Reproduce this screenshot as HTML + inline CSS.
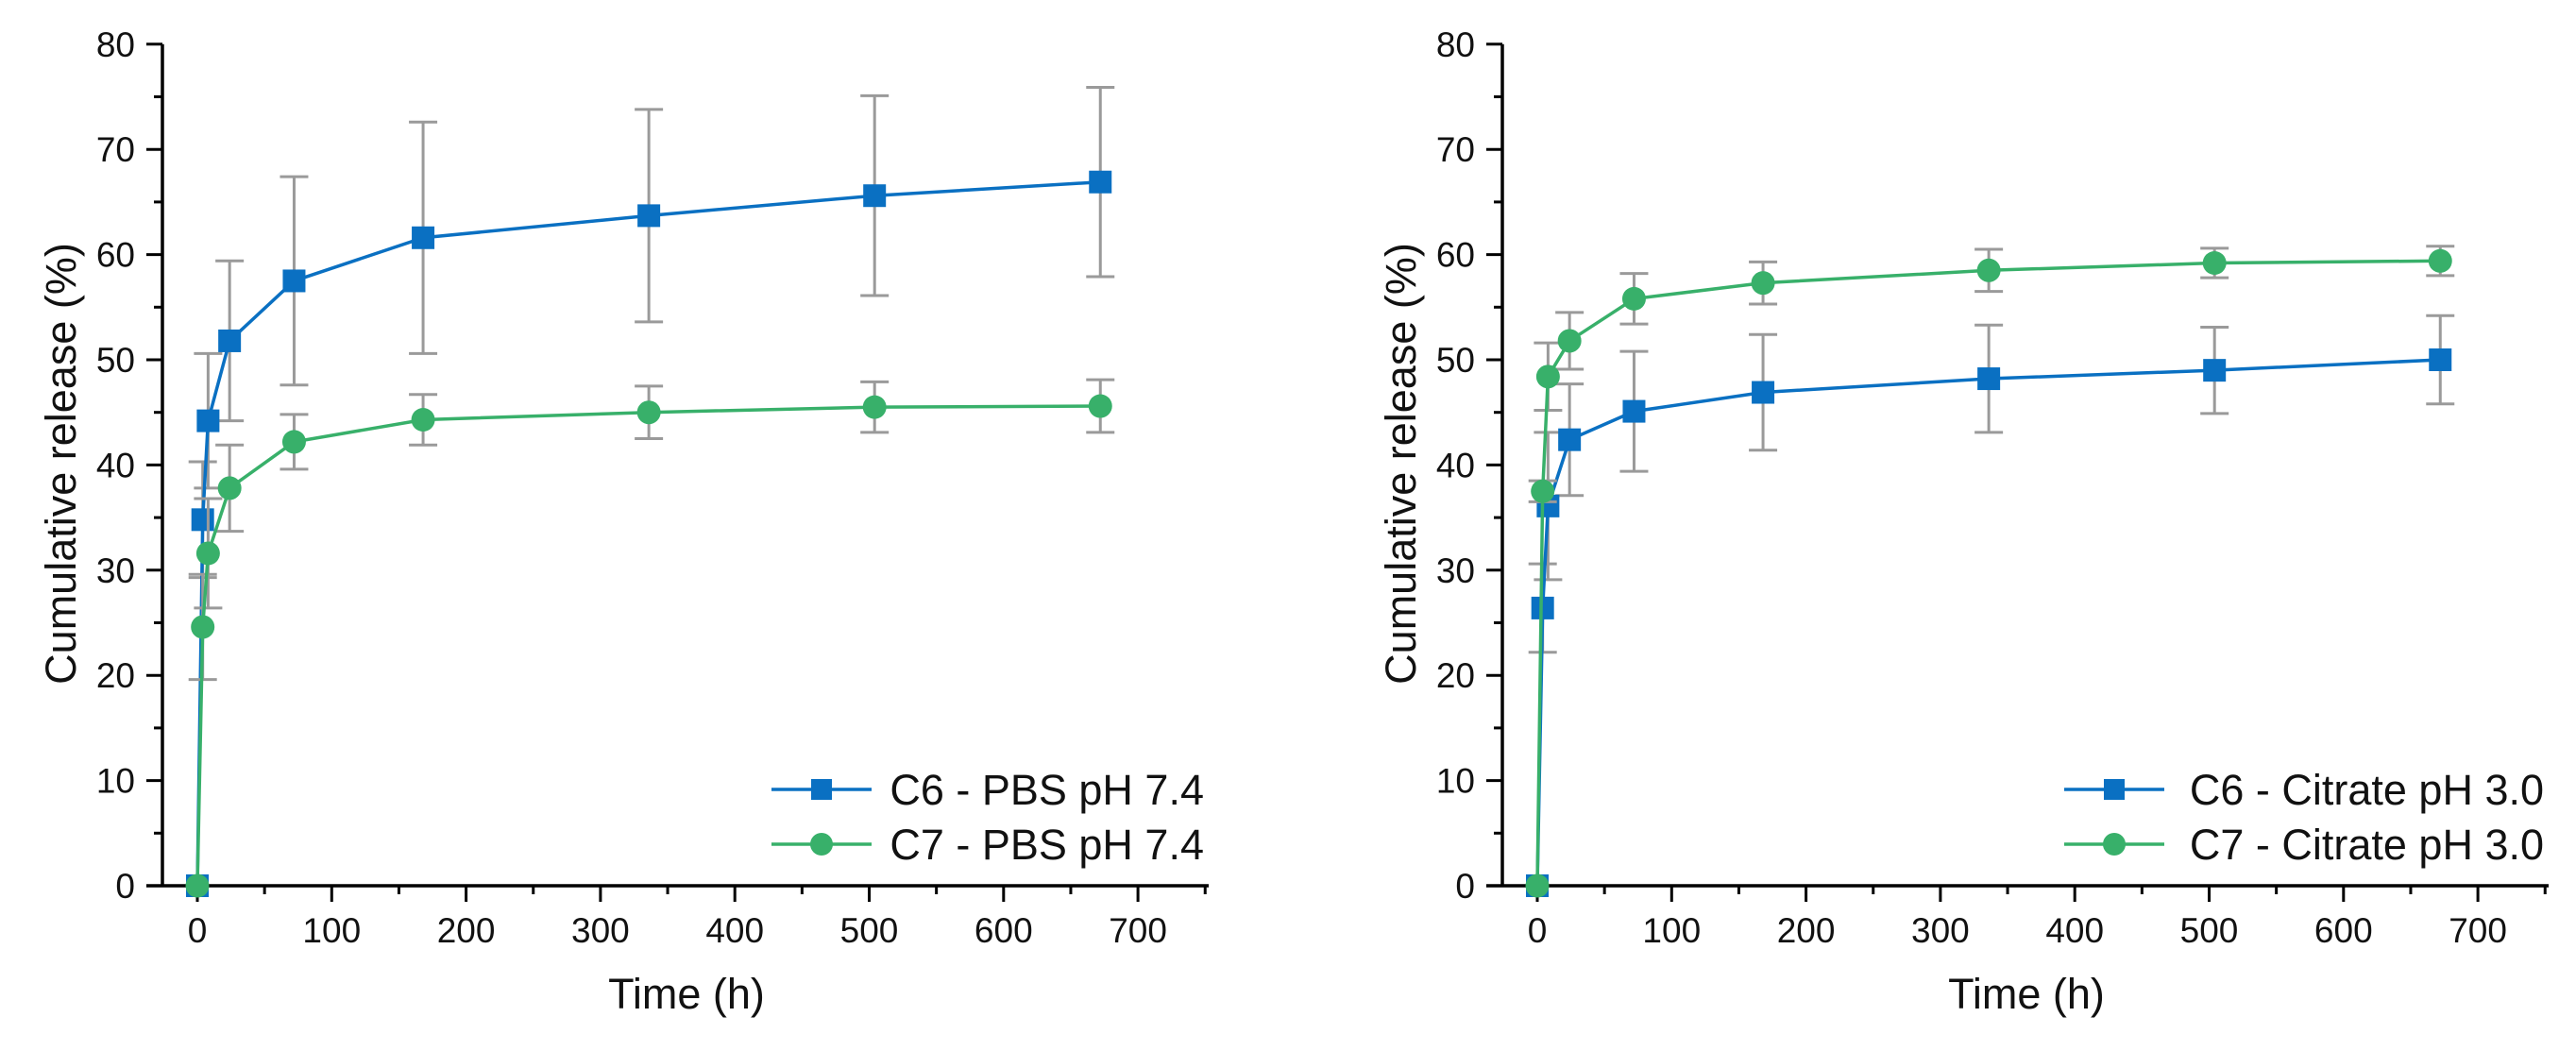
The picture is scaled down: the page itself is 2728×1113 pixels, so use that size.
<!DOCTYPE html>
<html><head><meta charset="utf-8">
<style>
html,body{margin:0;padding:0;background:#fff;}
svg{display:block;font-family:"Liberation Sans",Arial,sans-serif;}
</style></head>
<body>
<svg id="fig" width="2728" height="1113" viewBox="0 0 2728 1113"></svg>
<script>
const times = [0, 4, 8, 24, 72, 168, 336, 504, 672];
const pbsC6 = [0, 34.8, 44.2, 51.8, 57.5, 61.6, 63.7, 65.6, 66.9];
const pbsC6Err = [0, 5.5, 6.4, 7.6, 9.9, 11.0, 10.1, 9.5, 9.0];
const pbsC7 = [0, 24.6, 31.6, 37.8, 42.2, 44.3, 45.0, 45.5, 45.6];
const pbsC7Err = [0, 5.0, 5.2, 4.1, 2.6, 2.4, 2.5, 2.4, 2.5];
const citC6 = [0, 26.4, 36.1, 42.4, 45.1, 46.9, 48.2, 49.0, 50.0];
const citC6Err = [0, 4.2, 7.0, 5.3, 5.7, 5.5, 5.1, 4.1, 4.2];
const citC7 = [0, 37.5, 48.4, 51.8, 55.8, 57.3, 58.5, 59.2, 59.4];
const citC7Err = [0, 1.0, 3.2, 2.7, 2.4, 2.0, 2.0, 1.4, 1.4];
const xTickLabels = [0, 100, 200, 300, 400, 500, 600, 700];
const yTickLabels = [0, 10, 20, 30, 40, 50, 60, 70, 80];

const NS = "http://www.w3.org/2000/svg";
const svg = document.getElementById("fig");
const BLUE = "#0a70c2", GREEN = "#38b06a", GREY = "#9a9a9a";
function mk(tag, attrs, parent) {
  const e = document.createElementNS(NS, tag);
  for (const k in attrs) e.setAttribute(k, attrs[k]);
  (parent || svg).appendChild(e);
  return e;
}

function panel(dx, name, s1, e1, s2, e2, lab1, lab2, legTextEnd, legTextStart) {
  const g = mk("g", {});
  
  
  const xs = t => dx + 209 + t * 1.423;
  const ys = v => 938 - v * 11.14;
  const ax = mk("path", {d: `M${dx+155} 938 H${dx+1280} M${dx+172} 938 V${ys(80)}`, stroke: "#000", "stroke-width": 3.5, fill: "none"}, g);
  
  
  for (let t = 0; t <= 750; t += 50) {
    const major = t % 100 === 0;
    const tk = mk("line", {x1: xs(t), x2: xs(t), y1: 938, y2: 938 + (major ? 17 : 9), stroke: "#000", "stroke-width": 3}, g);
    
    
  }
  xTickLabels.forEach(v => {
    const tx = mk("text", {x: xs(v), y: 998, "font-size": 37, "text-anchor": "middle", fill: "#111"}, g);
    tx.textContent = v;
    
    
  });
  for (let v = 0; v <= 80; v += 5) {
    const major = v % 10 === 0;
    const tk = mk("line", {x1: dx + 172, x2: dx + 172 - (major ? 17 : 9), y1: ys(v), y2: ys(v), stroke: "#000", "stroke-width": 3}, g);
    
    
  }
  yTickLabels.forEach(v => {
    const tx = mk("text", {x: dx + 143, y: ys(v) + 13, "font-size": 37, "text-anchor": "end", fill: "#111"}, g);
    tx.textContent = v;
    
    
  });
  const xt = mk("text", {x: dx + 727, y: 1068, "font-size": 45, "text-anchor": "middle", fill: "#111"}, g);
  xt.textContent = "Time (h)";
  
  
  const yt = mk("text", {x: 0, y: 0, "font-size": 45, "text-anchor": "middle", fill: "#111", transform: `translate(${dx+80},491) rotate(-90)`}, g);
  yt.textContent = "Cumulative release (%)";
  
  

  function series(vals, errs, color, shape, sname) {
    const sg = mk("g", {}, g);
    
    
    vals.forEach((v, i) => {
      if (!errs[i]) return;
      const x = xs(times[i]), y1 = ys(v - errs[i]), y2 = ys(v + errs[i]);
      const eb = mk("path", {d: `M${x} ${y1} V${y2} M${x-15} ${y1} H${x+15} M${x-15} ${y2} H${x+15}`, stroke: GREY, "stroke-width": 3, fill: "none"}, sg);
      
      
    });
    const ln = mk("polyline", {points: vals.map((v, i) => xs(times[i]) + "," + ys(v)).join(" "), stroke: color, "stroke-width": 3.5, fill: "none"}, sg);
    
    
    vals.forEach((v, i) => {
      const x = xs(times[i]), y = ys(v);
      let m;
      if (shape === "sq") m = mk("rect", {x: x - 12, y: y - 12, width: 24, height: 24, fill: color}, sg);
      else m = mk("circle", {cx: x, cy: y, r: 12.5, fill: color}, sg);
      
      
    });
  }
  series(s1, e1, BLUE, "sq", "series-c6");
  series(s2, e2, GREEN, "ci", "series-c7");

  const lg = mk("g", {}, g);
  
  
  const lx = legTextStart - 118;
  [[lab1, BLUE, "sq", 836], [lab2, GREEN, "ci", 894]].forEach(([lab, c, sh, y]) => {
    const eg = mk("g", {}, lg);
    
    
    mk("line", {x1: lx, x2: lx + 106, y1: y, y2: y, stroke: c, "stroke-width": 3.5}, eg);
    const cx = lx + 53;
    if (sh === "sq") mk("rect", {x: cx - 11, y: y - 11, width: 22, height: 22, fill: c}, eg);
    else mk("circle", {cx: cx, cy: y, r: 12, fill: c}, eg);
    const tx = mk("text", {x: legTextEnd, y: y + 16, "font-size": 45, "text-anchor": "end", fill: "#111"}, eg);
    tx.textContent = lab;
  });
}

panel(0, "chart-pbs", pbsC6, pbsC6Err, pbsC7, pbsC7Err, "C6 - PBS pH 7.4", "C7 - PBS pH 7.4", 1275, 935);
panel(1419, "chart-citrate", citC6, citC6Err, citC7, citC7Err, "C6 - Citrate pH 3.0", "C7 - Citrate pH 3.0", 2694, 2304);
</script>
</body></html>
